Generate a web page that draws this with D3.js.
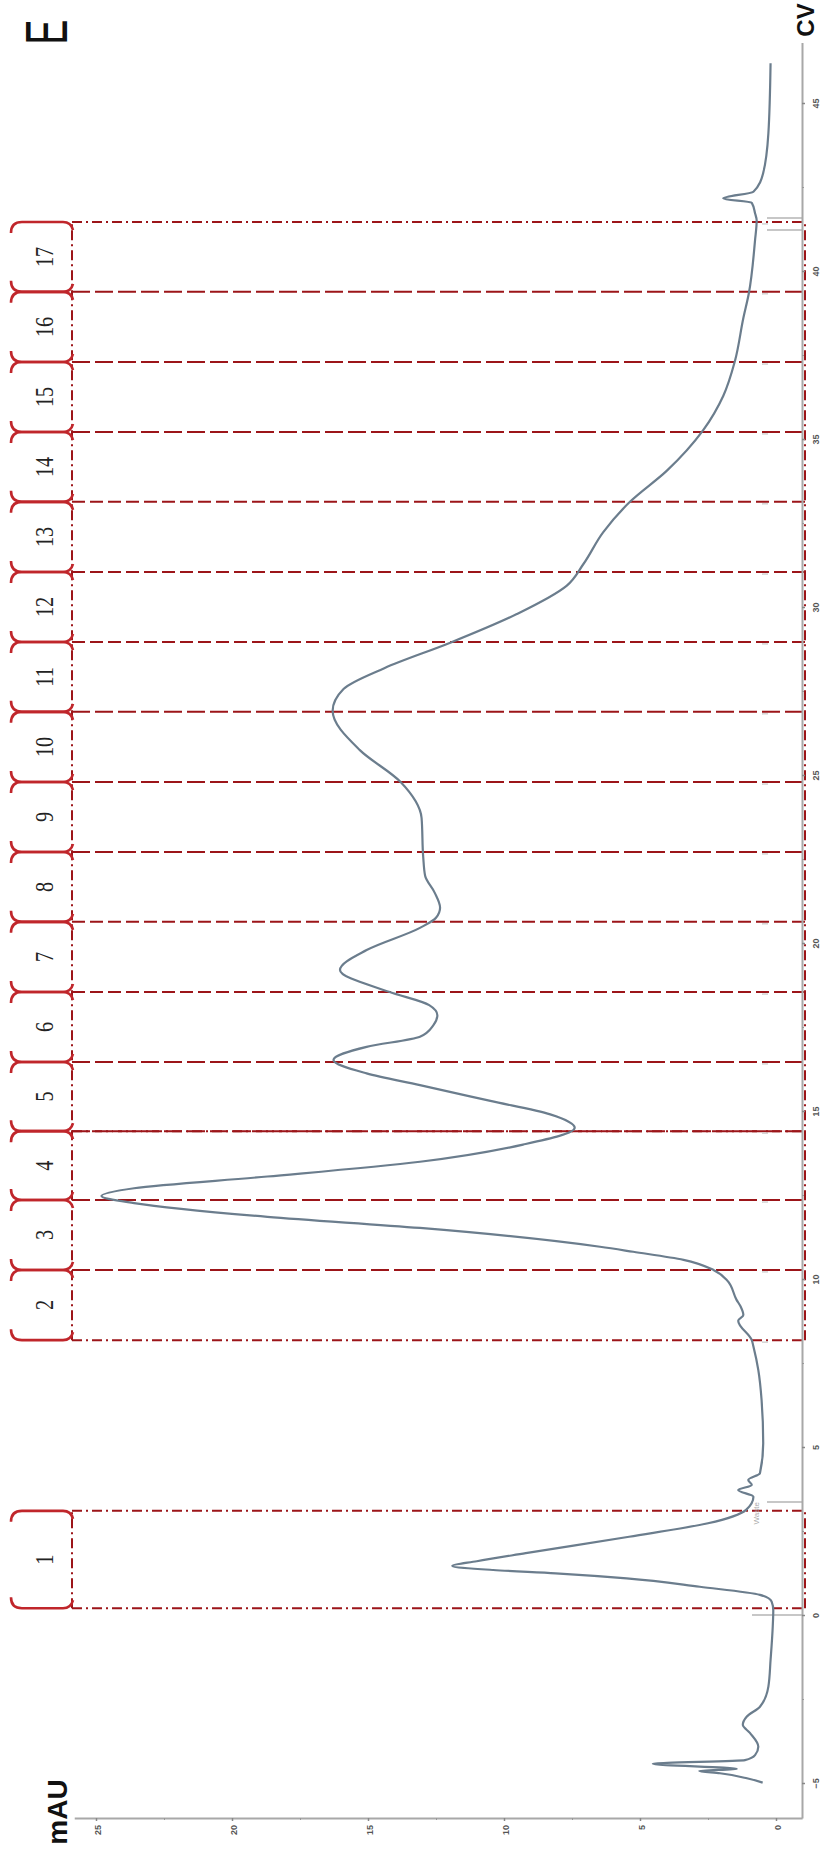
<!DOCTYPE html>
<html><head><meta charset="utf-8">
<script src="https://cdn.jsdelivr.net/npm/d3@7"></script>
<style>html,body{margin:0;padding:0;background:#fff}</style>
</head><body>
<svg id="c" width="822" height="1852"></svg>
<script>
// ---- data (CV in mL, absorbance in mAU) ----
const cvValues = [-4.99,-4.86,-4.71,-4.64,-4.58,-4.43,-4.32,-4.17,-3.92,-3.51,-3.27,-3.03,-2.73,-2.13,-1.34,-0.35,0.15,0.40,0.60,0.84,1.09,1.24,1.34,1.46,1.60,1.84,2.33,2.73,3.13,3.52,3.72,3.87,4.02,4.22,5.11,6.40,7.29,7.99,8.18,8.76,8.93,9.18,9.38,9.97,10.27,10.57,10.81,10.96,11.52,11.85,12.26,12.47,12.70,13.05,13.49,14.0,14.5,14.9,15.3,15.77,16.12,16.52,16.91,17.21,17.55,17.85,18.15,18.54,19.20,19.79,20.45,20.75,21.05,21.5,22.0,22.56,23.72,24.79,25.74,26.91,27.56,28.18,28.93,29.79,30.63,31.28,32.23,33.13,34.05,35.27,36.28,37.32,38.6,39.33,40.92,41.5,41.72,42.03,42.16,42.36,42.92,44.1,46.18];
const mauValues = [0.49,1.07,2.06,2.82,1.44,4.53,1.14,0.77,0.65,0.96,1.22,1.08,0.59,0.28,0.20,0.12,0.10,0.16,0.59,2.80,5.49,8.10,10.4,11.9,11.0,9.2,5.4,2.5,1.1,0.83,1.39,0.89,1.02,0.59,0.47,0.53,0.65,0.83,0.89,1.39,1.20,1.30,1.45,1.81,2.30,3.40,5.25,6.47,13.09,18.7,23.6,24.8,23.6,18.7,13.09,9.3,7.4,8.3,10.5,13.09,15.05,16.27,15.05,13.09,12.6,12.45,12.75,14.2,16.03,15.05,13.09,12.5,12.35,12.55,12.9,12.97,13.03,13.8,15.3,16.3,15.9,14.4,12.0,9.53,7.7,7.08,6.35,5.37,4.02,2.67,1.94,1.51,1.2,1.0,0.77,0.71,0.77,0.89,1.94,0.83,0.47,0.28,0.2];
const cvTicks = [-5,0,5,10,15,20,25,30,35,40,45];
const cvMinorTicks = [-2.5,2.5,7.5,12.5,17.5,22.5,27.5,32.5,37.5,42.5];
const mauTicks = [0,5,10,15,20,25];
const mauMinorTicks = [2.5,7.5,12.5,17.5,22.5];
const fraction1 = [0.2, 3.1];
const fractionEdges = [8.18,10.27,12.35,14.40,16.46,18.54,20.63,22.71,24.79,26.88,28.96,31.04,33.13,35.21,37.29,39.38,41.46];
const fractionNames = ["1","2","3","4","5","6","7","8","9","10","11","12","13","14","15","16","17"];
const markerCV = [0, 3.36, 41.22, 41.58];

// ---- scales ----
const y = d3.scaleLinear().domain([0,45]).range([1615,103]);
const x = d3.scaleLinear().domain([0,25]).range([776,96]);
const yAxisScale = y.copy().domain([-6.04,46.8]).range([y(-6.04), y(46.8)]);
const xAxisScale = x.copy().domain([-0.96,25.8]).range([x(-0.96), x(25.8)]);

const svg = d3.select("#c");
svg.append("rect").attr("width",822).attr("height",1852).attr("fill","#fff");

const RED = "#9c1519", BR = "#c0262b";
const DASH = "18,5", SHORT = "13,5", DOT = "10,4,2,4";
const xL = 72, xR = 805;

// ---- fraction boxes ----
const gF = svg.append("g");
const styles = ["dd","long","long","mix","long","short","short","long","long","long","short","short","short","long","long","long","dd"];
fractionEdges.forEach((v,i)=>{
  const yy = y(v), st = styles[i];
  const add = (da)=>gF.append("line").attr("x1",xL).attr("x2",xR).attr("y1",yy).attr("y2",yy)
     .attr("stroke",RED).attr("stroke-width",2).attr("stroke-dasharray",da);
  if (st==="dd") add(DOT);
  else if (st==="mix") { add(DASH); add(DOT); }
  else add(st==="long"?DASH:SHORT);
});
fraction1.forEach(v=>gF.append("line").attr("x1",xL).attr("x2",xR).attr("y1",y(v)).attr("y2",y(v))
   .attr("stroke",RED).attr("stroke-width",2).attr("stroke-dasharray",DOT));
[[fractionEdges[0],fractionEdges[16]],[fraction1[0],fraction1[1]]].forEach(([a,b])=>{
  [xL,xR].forEach(xx=>gF.append("line").attr("x1",xx).attr("x2",xx).attr("y1",y(a)).attr("y2",y(b))
     .attr("stroke",RED).attr("stroke-width",2).attr("stroke-dasharray",DOT));
});

// brackets and labels
const boxes = [[fraction1[0],fraction1[1]]];
for (let i=0;i<fractionEdges.length-1;i++) boxes.push([fractionEdges[i],fractionEdges[i+1]]);
const gB = svg.append("g");
boxes.forEach((b,i)=>{
  const yB = y(b[0]), yT = y(b[1]);
  gB.append("path").attr("d",`M11,${yT+11} Q11,${yT} 22,${yT} L63,${yT} Q71,${yT} 73,${yT+8}`)
    .attr("fill","none").attr("stroke",BR).attr("stroke-width",2.6);
  gB.append("path").attr("d",`M11,${yB-11} Q11,${yB} 22,${yB} L63,${yB} Q71,${yB} 73,${yB-8}`)
    .attr("fill","none").attr("stroke",BR).attr("stroke-width",2.6);
  gB.append("text").attr("transform",`translate(53,${(yT+yB)/2}) rotate(-90) scale(0.78,1)`)
    .attr("text-anchor","middle").attr("font-family","Liberation Serif, serif").attr("font-size",26)
    .attr("fill","#222").text(fractionNames[i]);
});

// ---- gray fraction markers near axis ----
const gM = svg.append("g");
markerCV.forEach(v=>gM.append("line").attr("x1",v===0?752:767).attr("x2",802).attr("y1",y(v)).attr("y2",y(v))
  .attr("stroke","#b5b5b5").attr("stroke-width",1.5));
fractionEdges.forEach(v=>gM.append("line").attr("x1",762).attr("x2",768).attr("y1",y(v)+2).attr("y2",y(v)+2)
  .attr("stroke","#c8c8c8").attr("stroke-width",1.2));
gM.append("text").attr("transform",`translate(759,${y(3.36)}) rotate(-90)`).attr("text-anchor","end")
  .attr("font-family","Liberation Sans, Arial").attr("font-size",8).attr("fill","#aaa").text("Waste");

// ---- axes ----
function styleAxis(g){
  g.select(".domain").attr("stroke","#a8a8a8").attr("stroke-width",2);
  g.selectAll(".tick line").attr("stroke","#888").attr("stroke-width",1.5);
  g.selectAll("text").attr("font-family","Liberation Sans, Arial").attr("font-size",9)
    .attr("font-weight","bold").attr("fill","#555");
}
const gy = svg.append("g").attr("transform","translate(802,0)")
  .call(d3.axisRight(yAxisScale).tickValues(cvTicks).tickSizeInner(3).tickSizeOuter(0).tickFormat(d3.format("d")));
gy.selectAll(".tick text").attr("x",0).attr("dy",0).attr("text-anchor","middle").attr("transform","translate(17,0) rotate(-90)");
styleAxis(gy);
const gy2 = svg.append("g").attr("transform","translate(802,0)")
  .call(d3.axisRight(yAxisScale).tickValues(cvMinorTicks).tickSize(2).tickFormat(""));
gy2.select(".domain").remove(); gy2.selectAll(".tick line").attr("stroke","#999");

const gx = svg.append("g").attr("transform","translate(0,1818)")
  .call(d3.axisBottom(xAxisScale).tickValues(mauTicks).tickSizeInner(3).tickSizeOuter(0).tickFormat(d3.format("d")));
gx.selectAll(".tick text").attr("x",0).attr("y",0).attr("dy",0).attr("text-anchor","end").attr("transform","translate(4,7) rotate(-90)");
styleAxis(gx);
const gx2 = svg.append("g").attr("transform","translate(0,1818)")
  .call(d3.axisBottom(xAxisScale).tickValues(mauMinorTicks).tickSize(2).tickFormat(""));
gx2.select(".domain").remove(); gx2.selectAll(".tick line").attr("stroke","#999");

// ---- curve ----
const pts = cvValues.map((c,i)=>({cv:c, m:mauValues[i]}));
svg.append("path").datum(pts)
  .attr("d", d3.line().x(d=>x(d.m)).y(d=>y(d.cv)).curve(d3.curveMonotoneY))
  .attr("fill","none").attr("stroke","#6b7d8d").attr("stroke-width",2.2).attr("stroke-linejoin","round");

// ---- titles ----
svg.append("text").attr("transform","translate(67,1812) rotate(-90)").attr("text-anchor","middle")
  .attr("font-family","Liberation Sans, Arial").attr("font-weight","bold").attr("font-size",28).attr("fill","#111").text("mAU");
svg.append("text").attr("transform","translate(814,20) rotate(-90)").attr("text-anchor","middle")
  .attr("font-family","Liberation Sans, Arial").attr("font-weight","bold").attr("font-size",24).attr("fill","#111").text("CV");
svg.append("text").attr("transform","translate(67,32) rotate(-90) scale(0.62,1)").attr("text-anchor","middle")
  .attr("font-family","Liberation Sans, Arial").attr("font-size",60).attr("fill","#111").text("E");
</script>
</body></html>
